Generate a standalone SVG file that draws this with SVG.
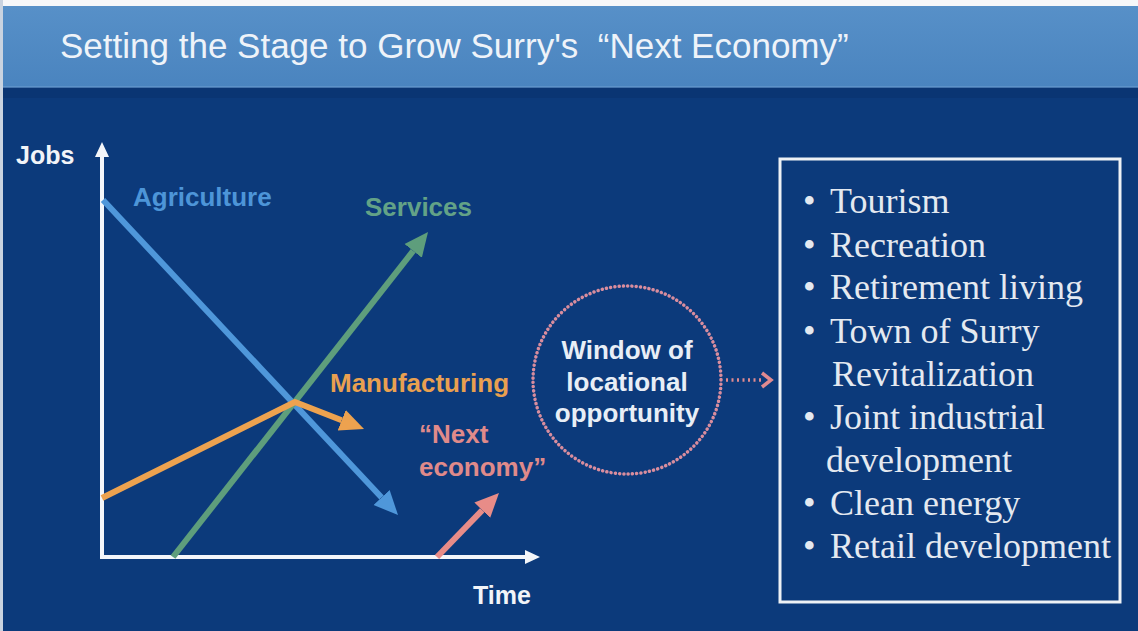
<svg xmlns="http://www.w3.org/2000/svg" width="1138" height="631" viewBox="0 0 1138 631">
<style>
.lbl{font-family:"Liberation Sans",Arial,sans-serif;font-weight:bold;font-size:26px}
.ax{font-family:"Liberation Sans",Arial,sans-serif;font-weight:bold;font-size:25px;fill:#f2f4f8}
.li{font-family:"Liberation Serif","Times New Roman",serif;font-size:36px;fill:#e4e9f0}
.ln{fill:none;stroke-width:6}
</style>
<defs>
<linearGradient id="tb" x1="0" y1="0" x2="0" y2="1">
<stop offset="0" stop-color="#5790c8"/><stop offset="1" stop-color="#4a84bf"/>
</linearGradient>
<marker id="mA" markerUnits="userSpaceOnUse" markerWidth="26" markerHeight="24" refX="0" refY="12" orient="auto"><path d="M0,1 L24,12 L0,23 z" fill="#4f97da"/></marker>
<marker id="mS" markerUnits="userSpaceOnUse" markerWidth="26" markerHeight="24" refX="0" refY="12" orient="auto"><path d="M0,1 L24,12 L0,23 z" fill="#5e9e7c"/></marker>
<marker id="mM" markerUnits="userSpaceOnUse" markerWidth="26" markerHeight="24" refX="0" refY="12" orient="auto"><path d="M0,1 L24,12 L0,23 z" fill="#eda24f"/></marker>
<marker id="mN" markerUnits="userSpaceOnUse" markerWidth="26" markerHeight="24" refX="0" refY="12" orient="auto"><path d="M0,1 L24,12 L0,23 z" fill="#e88c88"/></marker>
<marker id="mW" markerUnits="userSpaceOnUse" markerWidth="16" markerHeight="16" refX="0" refY="8" orient="auto"><path d="M0,1 L15,8 L0,15 z" fill="#f4f6fa"/></marker>
<marker id="mP" markerUnits="userSpaceOnUse" markerWidth="14" markerHeight="18" refX="2" refY="9" orient="auto"><path d="M2,2 L11,9 L2,16" fill="none" stroke="#e08a90" stroke-width="3.5"/></marker>
</defs>
<rect x="0" y="0" width="1138" height="631" fill="#0c3a7b"/>
<rect x="0" y="0" width="1138" height="6" fill="#f6f7f9"/>
<rect x="0" y="6" width="1138" height="81" fill="url(#tb)"/>
<rect x="0" y="86" width="1138" height="2" fill="#6b9bcf" opacity="0.6"/>
<rect x="0" y="88" width="1138" height="10" fill="#0a3573"/>
<rect x="0" y="0" width="3" height="631" fill="#c9d3e0"/>
<text x="60" y="58" font-family="'Liberation Sans',Arial,sans-serif" font-size="35" fill="#eef3f9" style="white-space:pre">Setting the Stage to Grow Surry's  “Next Economy”</text>

<g id="connectors">
<line x1="102" y1="559" x2="102" y2="157" stroke="#f4f6fa" stroke-width="4" marker-end="url(#mW)"/>
<line x1="100" y1="557" x2="525" y2="557" stroke="#f4f6fa" stroke-width="4" marker-end="url(#mW)"/>
<line class="ln" x1="103" y1="200" x2="381.6" y2="497.5" stroke="#4f97da" marker-end="url(#mA)"/>
<line class="ln" x1="173" y1="557" x2="413.2" y2="250.9" stroke="#5e9e7c" marker-end="url(#mS)"/>
<polyline class="ln" points="102,498 295,402 341.7,420.3" stroke="#eda24f" stroke-linejoin="round" marker-end="url(#mM)"/>
<line class="ln" x1="437" y1="557" x2="482.3" y2="510.2" stroke="#e88c88" marker-end="url(#mN)"/>
<line x1="726" y1="380" x2="762" y2="380" stroke="#e08a90" stroke-width="3.5" stroke-dasharray="2 3.5" marker-end="url(#mP)"/>
</g>

<g id="axis-labels">
<text class="ax" x="16" y="164">Jobs</text>
<text class="ax" x="473" y="604">Time</text>
</g>
<g id="agriculture"><text class="lbl" x="133" y="206" fill="#4d95d8">Agriculture</text></g>
<g id="services"><text class="lbl" x="365" y="216" fill="#63a287">Services</text></g>
<g id="manufacturing"><text class="lbl" x="330" y="392" fill="#e9a050">Manufacturing</text></g>
<g id="next-economy">
<text class="lbl" x="419" y="443" fill="#e08a8a">“Next</text>
<text class="lbl" x="419" y="476" fill="#e08a8a">economy”</text>
</g>
<g id="window">
<circle cx="627" cy="380" r="94" fill="none" stroke="#d98d9e" stroke-width="3.5" stroke-dasharray="0.1 4.2" stroke-linecap="round"/>
<text class="lbl" x="627" y="359" text-anchor="middle" fill="#e8eef6">Window of</text>
<text class="lbl" x="627" y="391" text-anchor="middle" fill="#e8eef6">locational</text>
<text class="lbl" x="627" y="422" text-anchor="middle" fill="#e8eef6">opportunity</text>
</g>
<g id="list">
<rect x="780" y="159" width="340" height="443" fill="none" stroke="#eef1f5" stroke-width="3"/>
<text class="li" x="803" y="213">•<tspan x="830">Tourism</tspan></text>
<text class="li" x="803" y="257">•<tspan x="830">Recreation</tspan></text>
<text class="li" x="803" y="299">•<tspan x="830">Retirement living</tspan></text>
<text class="li" x="803" y="343">•<tspan x="830">Town of Surry</tspan></text>
<text class="li" x="832" y="386">Revitalization</text>
<text class="li" x="803" y="429">•<tspan x="830">Joint industrial</tspan></text>
<text class="li" x="826" y="472">development</text>
<text class="li" x="803" y="515">•<tspan x="830">Clean energy</tspan></text>
<text class="li" x="803" y="558">•<tspan x="830">Retail development</tspan></text>
</g>
</svg>
